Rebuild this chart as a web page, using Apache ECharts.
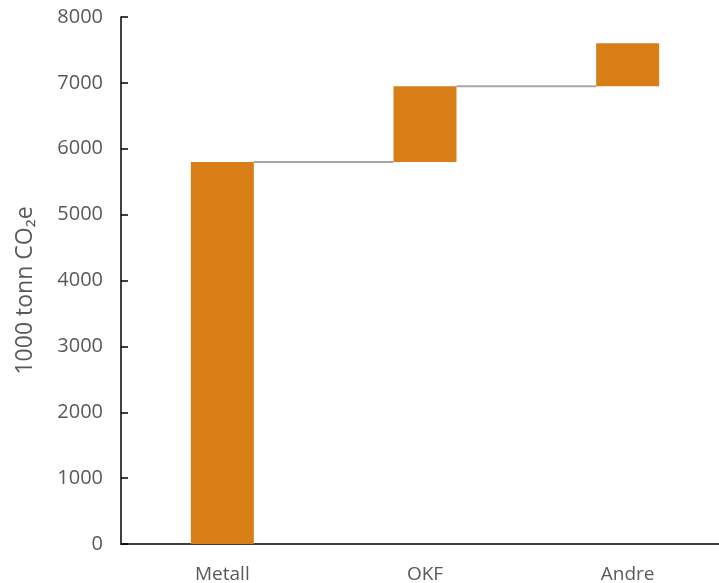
<!DOCTYPE html>
<html>
<head>
<meta charset="utf-8">
<script src="https://cdn.jsdelivr.net/npm/echarts@6/dist/echarts.min.js"></script>
<style>
  html, body { margin: 0; padding: 0; background: #fff; }
  #chart { width: 719px; height: 583px; }
</style>
</head>
<body>
<div id="chart"></div>
<script>
// data
var categories = ["Metall", "OKF", "Andre"];
var values = [5800, 1150, 650];
var yTicks = [0, 1000, 2000, 3000, 4000, 5000, 6000, 7000, 8000];

// invisible base for each waterfall step
var bases = [];
var running = 0;
values.forEach(function (v) {
  bases.push(running);
  running += v;
});

// connector lines between steps (level reached after each bar)
var connectors = [];
for (var i = 0; i < values.length - 1; i++) {
  connectors.push([i, bases[i] + values[i]]);
}

var BAR_W = 63;
var chart = echarts.init(document.getElementById("chart"));

chart.setOption({
  animation: false,
  grid: { left: 121, right: -10, top: 17, bottom: 39, outerBoundsMode: "none" },
  xAxis: {
    type: "category",
    data: categories,
    axisLine: { lineStyle: { color: "#000", width: 1.5 } },
    axisTick: { show: false },
    axisLabel: {
      margin: 21,
      fontFamily: "Open Sans",
      fontSize: 19,
      color: "#595959",
    },
  },
  yAxis: {
    type: "value",
    min: yTicks[0],
    max: yTicks[yTicks.length - 1],
    interval: 1000,
    name: "1000 tonn CO₂e",
    nameLocation: "middle",
    nameRotate: 90,
    nameGap: 84,
    nameTextStyle: {
      fontFamily: "Open Sans",
      fontSize: 23,
      color: "#595959",
      padding: [0, 20, 0, 0],
    },
    axisLine: { show: true, lineStyle: { color: "#000", width: 1.5 } },
    axisTick: { show: true, inside: true, length: 7, lineStyle: { color: "#000", width: 1.5 } },
    splitLine: { show: false },
    axisLabel: {
      margin: 18,
      fontFamily: "Open Sans",
      fontSize: 20,
      color: "#595959",
      formatter: function (v) { return String(v); },
    },
  },
  series: [
    {
      type: "bar",
      stack: "wf",
      barWidth: BAR_W,
      itemStyle: { color: "transparent" },
      data: bases,
      silent: true,
    },
    {
      type: "bar",
      stack: "wf",
      barWidth: BAR_W,
      itemStyle: { color: "#d77e17" },
      data: values,
    },
    {
      type: "custom",
      data: connectors,
      renderItem: function (params, api) {
        var idx = api.value(0);
        var lvl = api.value(1);
        var a = api.coord([idx, lvl]);
        var b = api.coord([idx + 1, lvl]);
        return {
          type: "line",
          shape: { x1: a[0] + BAR_W / 2, y1: a[1], x2: b[0] - BAR_W / 2, y2: b[1] },
          style: { stroke: "#a6a6a6", lineWidth: 2 },
        };
      },
    },
  ],
});
</script>
</body>
</html>
